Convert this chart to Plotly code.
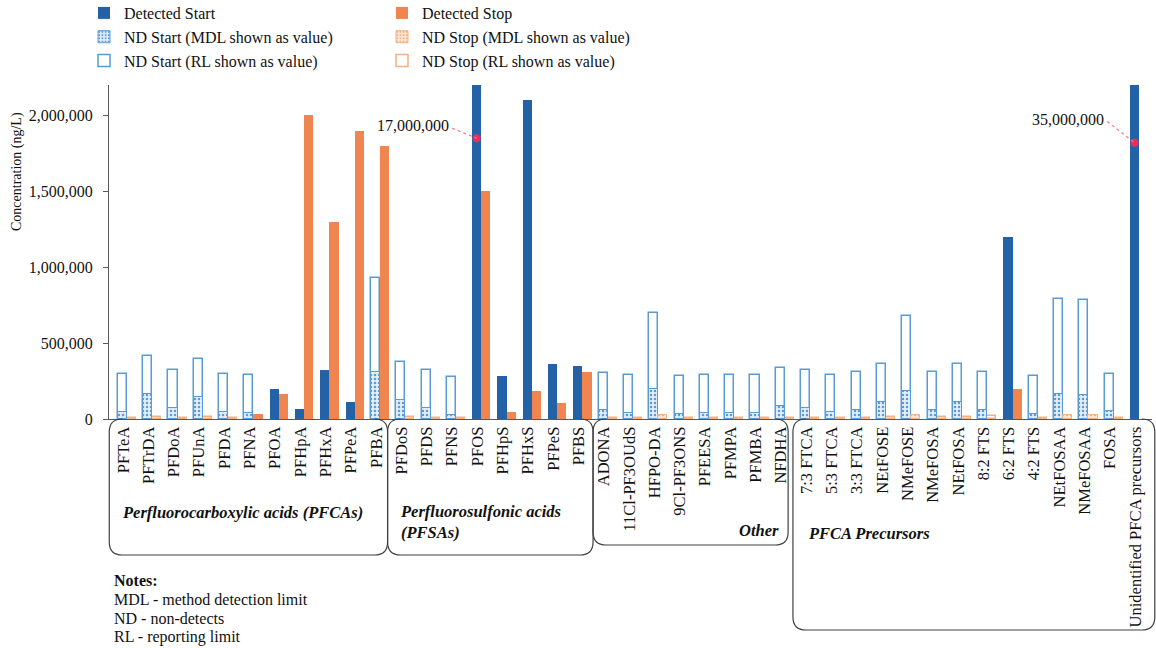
import plotly.graph_objects as go

# ---------------------------------------------------------------- data
categories = [
    "PFTeA", "PFTrDA", "PFDoA", "PFUnA", "PFDA", "PFNA", "PFOA", "PFHpA", "PFHxA", "PFPeA", "PFBA",
    "PFDoS", "PFDS", "PFNS", "PFOS", "PFHpS", "PFHxS", "PFPeS", "PFBS",
    "ADONA", "11Cl-PF3OUdS", "HFPO-DA", "9Cl-PF3ONS", "PFEESA", "PFMPA", "PFMBA", "NFDHA",
    "7:3 FTCA", "5:3 FTCA", "3:3 FTCA", "NEtFOSE", "NMeFOSE", "NMeFOSA", "NEtFOSA",
    "8:2 FTS", "6:2 FTS", "4:2 FTS", "NEtFOSAA", "NMeFOSAA", "FOSA", "Unidentified PFCA precursors",
]

N = None
start_detected = [
    N, N, N, N, N, N, 195000, 68000, 322000, 114000, N,
    N, N, N, 17000000, 283000, 2100000, 364000, 347000,
    N, N, N, N, N, N, N, N,
    N, N, N, N, N, N, N, N, 1200000, N, N, N, N, 35000000,
]
start_nd_mdl = [
    44000, 164000, 75000, 145000, 44000, 37000, N, N, N, N, 307000,
    125000, 72000, 29000, N, N, N, N, N,
    57000, 42000, 195000, 35000, 39000, 39000, 39000, 86000,
    72000, 44000, 61000, 114000, 182000, 60000, 114000, 59000, N, 33000, 167000, 156000, 50000, N,
]
start_nd_rl = [
    294000, 414000, 322000, 393000, 294000, 287000, N, N, N, N, 932000,
    373000, 322000, 276000, N, N, N, N, N,
    305000, 292000, 695000, 283000, 287000, 287000, 287000, 333000,
    322000, 292000, 309000, 362000, 680000, 309000, 362000, 309000, N, 281000, 792000, 781000, 298000, N,
]
stop_detected = [
    N, N, N, N, N, 30000, 167000, 2000000, 1300000, 1900000, 1800000,
    N, N, N, 1500000, 46000, 184000, 103000, 307000,
    N, N, N, N, N, N, N, N,
    N, N, N, N, N, N, N, N, 195000, N, N, N, N, N,
]
stop_nd_mdl = [
    N, N, N, N, N, N, N, N, N, N, N,
    N, N, N, N, N, N, N, N,
    N, N, 24000, N, N, N, N, N,
    N, N, N, N, 24000, N, N, N, N, N, 24000, 24000, N, N,
]
stop_nd_rl = [
    8000, 12000, 6000, 12000, 6000, N, N, N, N, N, N,
    14000, 6000, 6000, N, N, N, N, N,
    6000, 6000, N, 6000, 6000, 6000, 6000, 6000,
    8000, 6000, 6000, 14000, N, 10000, 12000, 20000, N, 8000, N, N, 8000, N,
]

y_tick_values = [0, 500000, 1000000, 1500000, 2000000]
y_max = 2200000
break_marks = ["PFOS", "Unidentified PFCA precursors"]
break_mark_level = [1850000, 1820000]
notes_title = "Notes:"
notes = ["MDL - method detection limit", "ND - non-detects", "RL - reporting limit"]

# ---------------------------------------------------------------- styling
FONT = "Liberation Serif"
BLUE = "#2462A8"
BLUE_LIGHT = "#5B9BD5"
ORANGE = "#F0854F"
ORANGE_LIGHT = "#F4B183"
AXIS = "#595959"
TEXT = "#111111"

W, H = 1156, 648
M_L, M_R, M_T, M_B = 109, 4, 85, 229
PLOT_W = W - M_L - M_R
PLOT_H = H - M_T - M_B
X0, X1 = -0.71, 40.51

BAR_W = 0.36
START_OFF = -0.36
STOP_OFF = 0.0
LABEL_SHIFT = -0.15

# leader-line geometry for the break labels (data-unit offsets from the marker)
leader_dx = [-0.97, -1.08]
leader_dy = [65000, 140000]

x = list(range(len(categories)))


def bar(values, name, legend, rank, offset, **marker):
    return go.Bar(
        x=x, y=values, name=name, legend=legend, legendrank=rank,
        width=BAR_W, offset=offset, marker=marker,
    )


fig = go.Figure()

# non-detect outlines (RL), then MDL pattern on top, then detected bars
fig.add_trace(bar(start_nd_rl, "ND Start (RL shown as value)", "legend", 3, START_OFF,
                  color="rgba(255,255,255,0)", line=dict(color=BLUE_LIGHT, width=1.5)))
fig.add_trace(bar(stop_nd_rl, "ND Stop (RL shown as value)", "legend2", 3, STOP_OFF,
                  color="rgba(255,255,255,0)", line=dict(color=ORANGE_LIGHT, width=1.5)))
fig.add_trace(bar(start_nd_mdl, "ND Start (MDL shown as value)", "legend", 2, START_OFF,
                  color="#DDEBF7", line=dict(color=BLUE_LIGHT, width=1),
                  pattern=dict(shape=".", fgcolor=BLUE_LIGHT, bgcolor="#E4EEF8",
                               size=4, solidity=0.3, fillmode="replace")))
fig.add_trace(bar(stop_nd_mdl, "ND Stop (MDL shown as value)", "legend2", 2, STOP_OFF,
                  color="#FBE3D5", line=dict(color=ORANGE_LIGHT, width=1),
                  pattern=dict(shape=".", fgcolor=ORANGE_LIGHT, bgcolor="#FCE7DA",
                               size=4, solidity=0.3, fillmode="replace")))
fig.add_trace(bar(start_detected, "Detected Start", "legend", 1, START_OFF,
                  color=BLUE, line=dict(width=0)))
fig.add_trace(bar(stop_detected, "Detected Stop", "legend2", 1, STOP_OFF,
                  color=ORANGE, line=dict(width=0)))

# axis-break markers on the clipped bars
mark_x = [categories.index(c) + START_OFF / 2 for c in break_marks]
fig.add_trace(go.Scatter(
    x=mark_x, y=break_mark_level, mode="markers", showlegend=False,
    marker=dict(color="#E8305A", size=8), cliponaxis=False,
))

annotations = []
shapes = []
for c, mx, my, dx, dy in zip(break_marks, mark_x, break_mark_level, leader_dx, leader_dy):
    value = start_detected[categories.index(c)]
    lx, ly = mx + dx, my + dy
    shapes.append(dict(type="line", xref="x", yref="y", x0=lx, y0=ly, x1=mx, y1=my,
                       line=dict(color="#EE7A8C", width=1.2, dash="dot"), layer="above"))
    annotations.append(dict(x=lx - 0.06, y=ly + 15000, xref="x", yref="y", text=f"{value:,}",
                            showarrow=False, xanchor="right", yanchor="middle",
                            font=dict(family=FONT, size=16, color=TEXT)))


# ---------------------------------------------------------------- group brackets
def px_x(data_x):
    return (data_x - X0) / (X1 - X0)


def px_y(pix):
    # pixel distance below the x axis -> paper coordinate
    return -pix / PLOT_H


def rounded_box(x0, x1, depth, r=13):
    rx, ry = r / PLOT_W, r / PLOT_H
    top, bot = 0.0, px_y(depth)
    return (f"M {x0 + rx},{top} Q {x0},{top} {x0},{top - ry} "
            f"L {x0},{bot + ry} Q {x0},{bot} {x0 + rx},{bot} "
            f"L {x1 - rx},{bot} Q {x1},{bot} {x1},{bot + ry} "
            f"L {x1},{top - ry} Q {x1},{top} {x1 - rx},{top}")


boxes = [
    (-0.70, 10.30, 136),
    (10.30, 18.42, 136),
    (18.42, 26.13, 126),
    (26.32, 40.62, 211),
]
for bx0, bx1, depth in boxes:
    shapes.append(dict(type="path", xref="paper", yref="paper",
                       path=rounded_box(px_x(bx0), px_x(bx1), depth),
                       line=dict(color="#404040", width=1.2)))

group_labels = [
    ("Perfluorocarboxylic acids (PFCAs)", 242, 93, "center"),
    ("Perfluorosulfonic acids<br>(PFSAs)", 398, 103, "left"),
    ("Other", 781, 111, "right"),
    ("PFCA Precursors", 806, 114, "left"),
]
for text, xp, depth, anchor in group_labels:
    annotations.append(dict(
        x=(xp - M_L) / PLOT_W, y=px_y(depth), xref="paper", yref="paper",
        text=f"<b><i>{text}</i></b>", showarrow=False, xanchor=anchor, yanchor="middle",
        align="left", font=dict(family=FONT, size=16.5, color=TEXT),
    ))

# notes block below the chart
note_lines = [f"<b>{notes_title}</b>"] + notes
for i, line in enumerate(note_lines):
    annotations.append(dict(
        x=(112 - M_L) / PLOT_W, y=px_y(580 + 19 * i - (H - M_B)), xref="paper", yref="paper",
        text=line, showarrow=False, xanchor="left", yanchor="middle", align="left",
        font=dict(family=FONT, size=16, color=TEXT),
    ))

annotations.append(dict(
    x=(17 - M_L) / PLOT_W, y=(H - M_B - 172) / PLOT_H, xref="paper", yref="paper",
    text="Concentration (ng/L)", textangle=-90, showarrow=False,
    xanchor="center", yanchor="middle", font=dict(family=FONT, size=14, color=TEXT),
))

legend_style = dict(yanchor="top", xanchor="left", bgcolor="rgba(0,0,0,0)",
                    font=dict(family=FONT, size=16, color=TEXT), tracegroupgap=0, itemwidth=30)

fig.update_layout(
    width=W, height=H,
    margin=dict(l=M_L, r=M_R, t=M_T, b=M_B, autoexpand=False),
    paper_bgcolor="white", plot_bgcolor="white",
    barmode="overlay", bargap=0,
    font=dict(family=FONT, size=16, color=TEXT),
    shapes=shapes, annotations=annotations,
    legend=dict(x=(84 - M_L) / PLOT_W, y=1 + (M_T + 4) / PLOT_H, **legend_style),
    legend2=dict(x=(382 - M_L) / PLOT_W, y=1 + (M_T + 4) / PLOT_H, **legend_style),
    xaxis=dict(
        range=[X0, X1], tickmode="array", tickvals=[i + LABEL_SHIFT for i in x], ticktext=categories,
        tickangle=-90, ticks="", showgrid=False, zeroline=False,
        showline=True, linecolor=AXIS, linewidth=1.2,
        tickfont=dict(family=FONT, size=16.5, color=TEXT), automargin=False,
    ),
    yaxis=dict(
        range=[0, y_max], tickmode="array", tickvals=y_tick_values,
        tickformat=",", ticks="outside", ticklen=5, tickcolor=AXIS, ticklabelstandoff=7,
        showgrid=False, zeroline=False, showline=True, linecolor=AXIS, linewidth=1.2,
        tickfont=dict(family=FONT, size=16, color=TEXT), automargin=False,
    ),
)

fig.write_html("out.html")
